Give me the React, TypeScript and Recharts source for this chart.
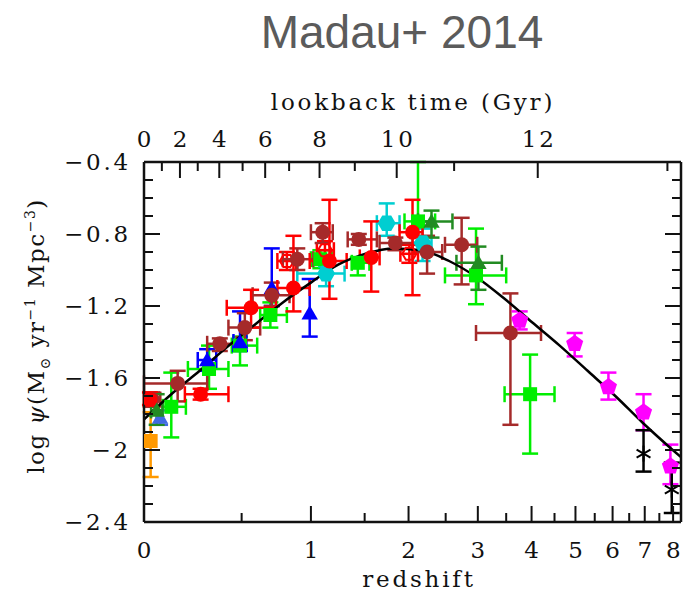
import React from "react";
import { ComposedChart, Scatter, Line, XAxis, YAxis, ErrorBar } from "recharts";

const W = 693;
const H = 593;
const PLOT_LEFT = 144;
const PLOT_RIGHT = 681;
const PLOT_TOP = 162;
const PLOT_BOTTOM = 522;
const FONT = '"DejaVu Serif", serif';
const INK = "#111";

// each point: [z, zLow, zHigh, log psi, low, high]
const redFilled = [
  [0.025, 0.0, 0.05, -1.72, -1.75, -1.68],
  [0.265, 0.185, 0.42, -1.69, -1.72, -1.66],
  [0.56, 0.41, 0.73, -1.21, -1.32, -1.11],
  [0.86, 0.74, 0.99, -1.1, -1.23, -0.81],
  [1.16, 0.99, 1.32, -0.95, -1.16, -0.61],
  [1.57, 1.45, 1.66, -0.93, -1.12, -0.73],
  [2.05, 1.89, 2.18, -0.79, -1.14, -0.61],
];
const redOpen = [
  [0.81, 0.74, 0.88, -0.95, -1.0, -0.9],
  [1.12, 1.05, 1.2, -0.89, -0.95, -0.84],
  [2.01, 1.9, 2.12, -0.91, -0.96, -0.86],
];
const brown = [
  [0.035, 0.0, 0.07, -1.72, -1.76, -1.68],
  [0.15, 0.0, 0.3, -1.63, -1.73, -1.56],
  [0.37, 0.3, 0.47, -1.41, -1.45, -1.38],
  [0.52, 0.42, 0.62, -1.32, -1.39, -1.24],
  [0.7, 0.57, 0.83, -1.14, -1.2, -1.07],
  [0.89, 0.78, 1.02, -0.94, -1.0, -0.88],
  [1.1, 1.0, 1.19, -0.79, -0.85, -0.74],
  [1.44, 1.33, 1.63, -0.83, -0.86, -0.8],
  [1.84, 1.66, 2.18, -0.85, -0.89, -0.82],
  [2.24, 2.05, 2.45, -0.9, -1.02, -0.81],
  [2.74, 2.49, 2.99, -0.86, -1.08, -0.71],
  [3.58, 2.97, 4.2, -1.35, -1.86, -1.13],
];
const greenSquares = [
  [0.12, 0.08, 0.19, -1.76, -1.93, -1.57],
  [0.31, 0.2, 0.42, -1.55, -1.66, -1.42],
  [0.49, 0.44, 0.6, -1.42, -1.53, -1.37],
  [0.69, 0.62, 0.81, -1.25, -1.32, -1.18],
  [1.08, 1.0, 1.18, -0.94, -0.99, -0.89],
  [1.43, 1.37, 1.55, -0.96, -1.03, -0.93],
  [2.12, 1.95, 2.35, -0.73, -0.86, -0.4],
  [2.97, 2.49, 3.5, -1.03, -1.19, -0.77],
  [3.97, 3.47, 4.5, -1.69, -2.02, -1.47],
];
const darkGreenTriangles = [
  [0.054, 0.03, 0.08, -1.78, -1.86, -1.69],
  [2.3, 2.12, 2.6, -0.73, -0.82, -0.67],
  [3.01, 2.66, 3.42, -0.96, -1.11, -0.87],
];
const blueTriangles = [
  [0.3, 0.25, 0.35, -1.5, -1.56, -1.44],
  [0.49, 0.45, 0.53, -1.4, -1.45, -1.23],
  [0.7, 0.7, 0.7, -1.1, -1.2, -0.88],
  [0.99, 0.99, 0.99, -1.24, -1.37, -1.05],
];
const royalBlueTriangles = [[0.069, 0.069, 0.069, -1.82, -1.86, -1.78]];
const cyanHexagons = [
  [1.13, 0.89, 1.3, -1.02, -1.09, -0.98],
  [1.74, 1.63, 1.89, -0.74, -0.81, -0.63],
  [2.18, 2.05, 2.3, -0.85, -0.95, -0.77],
];
const magentaPentagons = [
  [3.76, 3.76, 3.76, -1.28, -1.33, -1.23],
  [4.98, 4.98, 4.98, -1.41, -1.48, -1.35],
  [5.88, 5.88, 5.88, -1.65, -1.72, -1.57],
  [6.96, 6.96, 6.96, -1.79, -1.89, -1.69],
  [7.9, 7.9, 7.9, -2.09, -2.19, -1.97],
];
const blackStars = [
  [6.96, 6.96, 6.96, -2.02, -2.12, -1.89],
  [7.95, 7.95, 7.95, -2.22, -2.35, -2.07],
];
const orangeSquares = [[0.028, 0.028, 0.028, -1.95, -2.15, -1.79]];

// fitted curve
const curveZ = [0, 0.12, 0.26, 0.41, 0.59, 0.78, 1.0, 1.24, 1.51, 1.82, 2.16, 2.55, 2.98, 3.47, 4.01, 4.62, 5.31, 6.08, 6.94, 7.91, 8.3];
const curveLogPsi = [-1.83, -1.69, -1.56, -1.43, -1.3, -1.18, -1.07, -0.97, -0.91, -0.88, -0.89, -0.95, -1.04, -1.16, -1.29, -1.42, -1.56, -1.7, -1.85, -1.99, -2.04];

// axes
const Z_MAX = 8.3;
const redshiftTicks = [0, 0.5, 1, 1.5, 2, 2.5, 3, 3.5, 4, 4.5, 5, 5.5, 6, 6.5, 7, 7.5, 8];
const lookbackGyr = [0, 1, 2, 3, 4, 5, 6, 7, 8, 9, 10, 11, 12, 13];
const lookbackZ = [0, 0.077, 0.161, 0.25, 0.367, 0.506, 0.654, 0.827, 1.073, 1.4, 1.856, 2.625, 4.13, 7.79];
const yTicks = [-2.4, -2.3, -2.2, -2.1, -2, -1.9, -1.8, -1.7, -1.6, -1.5, -1.4, -1.3, -1.2, -1.1, -1, -0.9, -0.8, -0.7, -0.6, -0.5, -0.4];
const yMajor = [-2.4, -2, -1.6, -1.2, -0.8, -0.4];

const toX = (z: number) => Math.log10(1 + z);
const X_MAX = toX(Z_MAX);

function buildRows(rows: number[][]) {
  return rows.map(([z, zLo, zHi, y, yLo, yHi]) => {
    const x = toX(z);
    return {
      x,
      y,
      ex: zHi > zLo ? [x - toX(zLo), toX(zHi) - x] : undefined,
      ey: [y - yLo, yHi - y],
    };
  });
}

const curveRows = curveZ.map((z, i) => ({ x: toX(z), y: curveLogPsi[i] }));

function poly(cx: number, cy: number, r: number, n: number, rot: number) {
  const pts: string[] = [];
  for (let i = 0; i < n; i++) {
    const a = rot + (i * 2 * Math.PI) / n;
    pts.push(`${cx + r * Math.cos(a)},${cy + r * Math.sin(a)}`);
  }
  return pts.join(" ");
}

function marker(kind: string, color: string) {
  return (p: any) => {
    const { cx, cy } = p;
    if (cx == null || cy == null) return <g />;
    if (kind === "circle") return <circle cx={cx} cy={cy} r={7.5} fill={color} />;
    if (kind === "open") return <polygon points={poly(cx, cy, 7, 6, 0)} fill="none" stroke={color} strokeWidth={2} />;
    if (kind === "square") return <rect x={cx - 7} y={cy - 7} width={14} height={14} fill={color} />;
    if (kind === "triangle") return <polygon points={poly(cx, cy + 1.5, 9.5, 3, -Math.PI / 2)} fill={color} />;
    if (kind === "pentagon") return <polygon points={poly(cx, cy, 9, 5, -Math.PI / 2)} fill={color} />;
    if (kind === "hexagon") return <polygon points={poly(cx, cy, 9, 6, 0)} fill={color} />;
    // asterisk
    return (
      <g stroke={color} strokeWidth={2}>
        {[Math.PI / 6, Math.PI / 2, (5 * Math.PI) / 6].map((a) => (
          <line key={a} x1={cx - 8 * Math.cos(a)} y1={cy - 8 * Math.sin(a)} x2={cx + 8 * Math.cos(a)} y2={cy + 8 * Math.sin(a)} />
        ))}
      </g>
    );
  };
}

const series = [
  { name: "orange", rows: orangeSquares, color: "#FF9900", kind: "square" },
  { name: "green", rows: greenSquares, color: "#00EE00", kind: "square" },
  { name: "cyan", rows: cyanHexagons, color: "#00CED1", kind: "hexagon" },
  { name: "blue", rows: blueTriangles, color: "#0000FF", kind: "triangle" },
  { name: "royalblue", rows: royalBlueTriangles, color: "#4169E1", kind: "triangle" },
  { name: "redOpen", rows: redOpen, color: "#FF0000", kind: "open" },
  { name: "brown", rows: brown, color: "#A52A2A", kind: "circle" },
  { name: "red", rows: redFilled, color: "#FF0000", kind: "circle" },
  { name: "darkgreen", rows: darkGreenTriangles, color: "#228B22", kind: "triangle" },
  { name: "magenta", rows: magentaPentagons, color: "#FF00FF", kind: "pentagon" },
  { name: "black", rows: blackStars, color: "#000000", kind: "star" },
];

const labelStyle = { fontFamily: FONT, fontSize: 23, letterSpacing: 2.8, fill: INK } as const;

const nearest = (list: number[], v: number) =>
  list.reduce((best, cur, i) => (Math.abs(cur - v) < Math.abs(list[best] - v) ? i : best), 0);

const minus = (v: number) => (v < 0 ? "\u2212" + String(Math.abs(v)) : String(v));

const BottomTick = (p: any) => {
  const i = nearest(redshiftTicks.map(toX), p.payload.value);
  const z = redshiftTicks[i];
  const major = Number.isInteger(z);
  return (
    <g>
      <line x1={p.x} x2={p.x} y1={PLOT_BOTTOM} y2={PLOT_BOTTOM - (major ? 16 : 9)} stroke={INK} strokeWidth={2} />
      {major && (
        <text x={p.x + 1.5} y={PLOT_BOTTOM + 36} textAnchor="middle" {...labelStyle}>
          {z}
        </text>
      )}
    </g>
  );
};

const TopTick = (p: any) => {
  const i = nearest(lookbackZ.map(toX), p.payload.value);
  const t = lookbackGyr[i];
  const major = t % 2 === 0;
  return (
    <g>
      <line x1={p.x} x2={p.x} y1={PLOT_TOP} y2={PLOT_TOP + (major ? 16 : 9)} stroke={INK} strokeWidth={2} />
      {major && (
        <text x={p.x + 1.5} y={PLOT_TOP - 15} textAnchor="middle" {...labelStyle}>
          {t}
        </text>
      )}
    </g>
  );
};

const isMajorY = (v: number) => yMajor.some((m) => Math.abs(m - v) < 1e-6);

const LeftTick = (p: any) => {
  const v = p.payload.value;
  const major = isMajorY(v);
  return (
    <g>
      <line x1={PLOT_LEFT} x2={PLOT_LEFT + (major ? 16 : 9)} y1={p.y} y2={p.y} stroke={INK} strokeWidth={2} />
      {major && (
        <text x={131} y={p.y + 8} textAnchor="end" {...labelStyle}>
          {minus(v)}
        </text>
      )}
    </g>
  );
};

const RightTick = (p: any) => {
  const major = isMajorY(p.payload.value);
  return (
    <line x1={PLOT_RIGHT} x2={PLOT_RIGHT - (major ? 16 : 9)} y1={p.y} y2={p.y} stroke={INK} strokeWidth={2} />
  );
};

export default function App() {
  const axisLine = { stroke: INK, strokeWidth: 2.5 };
  return (
    <div style={{ position: "absolute", left: 0, top: 0, width: W, height: H, background: "#fff" }}>
      <ComposedChart width={W} height={H} margin={{ top: PLOT_TOP - 60, right: 0, bottom: H - PLOT_BOTTOM - 70, left: 0 }}>
        <XAxis
          xAxisId="bottom"
          dataKey="x"
          type="number"
          domain={[0, X_MAX]}
          allowDataOverflow
          ticks={redshiftTicks.map(toX)}
          interval={0}
          height={70}
          axisLine={axisLine}
          tickLine={false}
          tick={<BottomTick />}
        />
        <XAxis
          xAxisId="top"
          orientation="top"
          dataKey="x"
          type="number"
          domain={[0, X_MAX]}
          allowDataOverflow
          ticks={lookbackZ.map(toX)}
          interval={0}
          height={60}
          axisLine={axisLine}
          tickLine={false}
          tick={<TopTick />}
        />
        <YAxis
          yAxisId="left"
          dataKey="y"
          type="number"
          domain={[-2.4, -0.4]}
          allowDataOverflow
          ticks={yTicks}
          interval={0}
          width={PLOT_LEFT}
          axisLine={axisLine}
          tickLine={false}
          tick={<LeftTick />}
        />
        <YAxis
          yAxisId="right"
          orientation="right"
          type="number"
          domain={[-2.4, -0.4]}
          allowDataOverflow
          ticks={yTicks}
          interval={0}
          width={W - PLOT_RIGHT}
          axisLine={axisLine}
          tickLine={false}
          tick={<RightTick />}
        />
        {series.map((s) => (
          <Scatter
            key={s.name}
            name={s.name}
            data={buildRows(s.rows)}
            xAxisId="bottom"
            yAxisId="left"
            fill={s.color}
            shape={marker(s.kind, s.color)}
            isAnimationActive={false}
          >
            <ErrorBar dataKey="ex" direction="x" stroke={s.color} strokeWidth={2.5} width={8} />
            <ErrorBar dataKey="ey" direction="y" stroke={s.color} strokeWidth={2.5} width={8} />
          </Scatter>
        ))}
        <Line
          data={curveRows}
          dataKey="y"
          xAxisId="bottom"
          yAxisId="left"
          type="monotone"
          dot={false}
          stroke="#000"
          strokeWidth={2.5}
          isAnimationActive={false}
        />
      </ComposedChart>
      <svg width={W} height={H} style={{ position: "absolute", left: 0, top: 0, pointerEvents: "none" }}>
        <text x={402} y={48} textAnchor="middle" fontFamily='"Liberation Sans", Arial, sans-serif' fontSize={46} fill="#5b5b5b">
          Madau+ 2014
        </text>
        <text x={413} y={110} textAnchor="middle" {...labelStyle}>
          lookback time (Gyr)
        </text>
        <text x={419} y={587} textAnchor="middle" {...labelStyle}>
          redshift
        </text>
        <text transform="translate(44,336) rotate(-90)" textAnchor="middle" {...labelStyle} letterSpacing={1.5}>
          log <tspan fontStyle="italic">ψ</tspan>(M
          <tspan fontSize={14} dy={6}>⊙</tspan>
          <tspan dy={-6}> yr</tspan>
          <tspan fontSize={14} dy={-9}>−1</tspan>
          <tspan dy={9}> Mpc</tspan>
          <tspan fontSize={14} dy={-9}>−3</tspan>
          <tspan dy={9}>)</tspan>
        </text>
      </svg>
    </div>
  );
}
